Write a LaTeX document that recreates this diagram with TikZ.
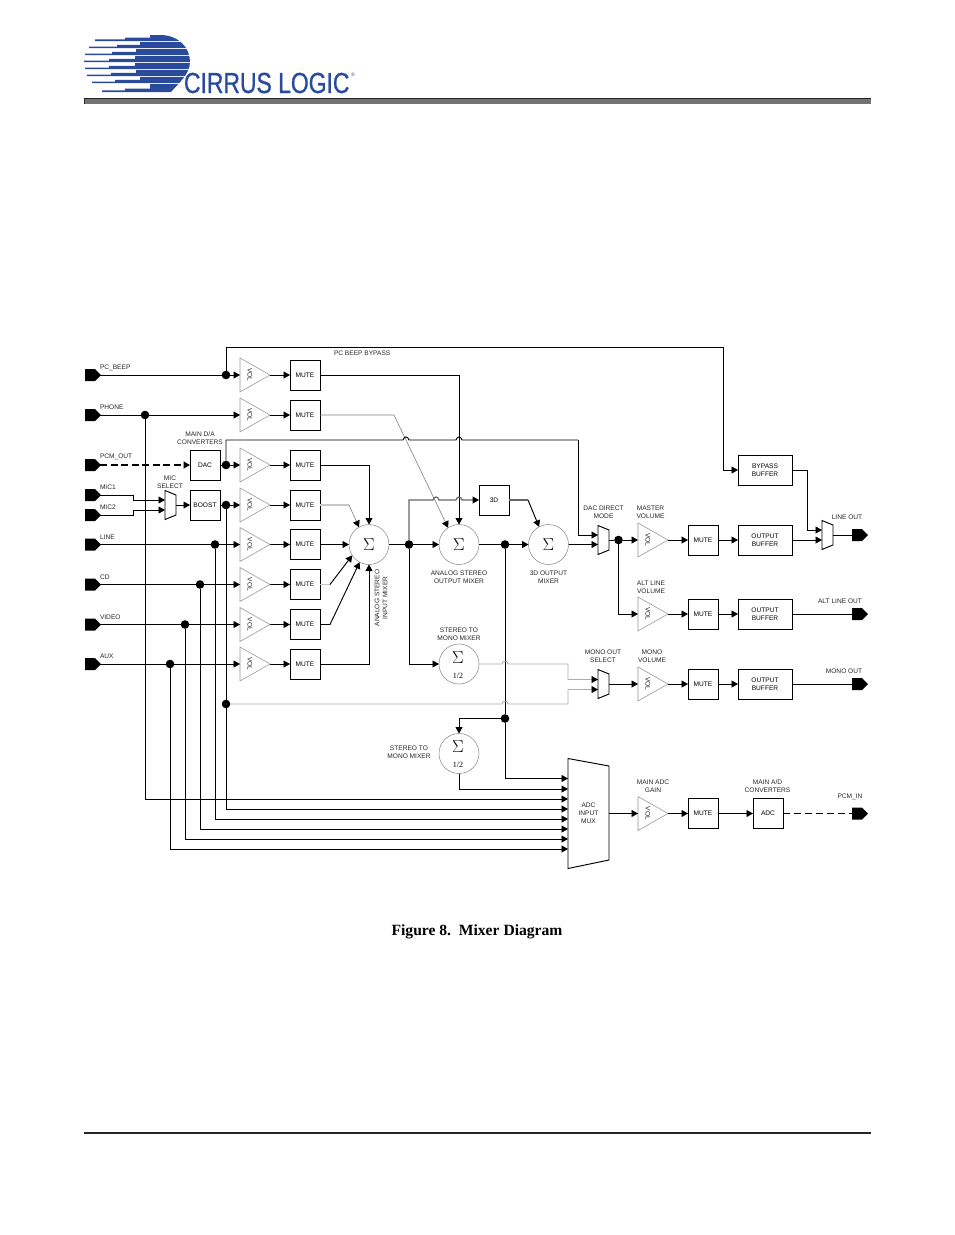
\documentclass[tikz,border=0pt]{standalone}
\usepackage{fontspec}
\setmainfont{Liberation Sans}
\newfontfamily\seriffont{Liberation Serif}
\newfontfamily\logofont[FakeBold=0.9]{Liberation Sans}
\usetikzlibrary{arrows.meta}
\definecolor{cirrus}{HTML}{2A4A9C}
\tikzset{
  wire/.style={line width=0.95pt,black},
  ar/.style={-{Triangle[length=6.5pt,width=7pt,color=black]}},
  graywire/.style={line width=0.6pt,black!50},
  midwire/.style={line width=1.2pt,black!60},
  palewire/.style={line width=1pt,black!22},
  monowire/.style={line width=0.8pt,black!32},
  dashwire/.style={line width=1.6pt,black,dash pattern=on 7pt off 3.5pt},
  box/.style={draw=black,line width=0.95pt,inner sep=0pt,outer sep=0pt,align=center,font=\lblfont},
  ghost/.style={inner sep=0pt,outer sep=0pt,draw=none},
  lbl/.style={inner sep=0pt,outer sep=0pt,align=center,font=\lblfont,text=black!85},
  dot/.style={circle,fill=black,draw=none,minimum size=8.6pt,inner sep=0pt,outer sep=0pt},
  sumc/.style={circle,draw=black!45,line width=0.55pt,minimum size=40pt,inner sep=0pt,outer sep=0pt},
  ampline/.style={draw=black!42,line width=0.55pt},
  muxline/.style={draw=black,line width=0.95pt},
}
\newcommand{\lblfont}{\fontsize{6.6}{8}\selectfont}
\newcommand{\volamp}[3]{%
  \node[ghost,minimum width=30pt,minimum height=34pt] (#1) at (#2+15,#3) {};
  \draw[ampline] (#1.north west) -- (#1.east) -- (#1.south west) -- cycle;
  \node[lbl,rotate=-90] (#1t) at (#2+10,#3) {VOL};
}
\newcommand{\mutebox}[3]{\node[box,minimum width=30pt,minimum height=30pt] (#1) at (#2+15,#3) {MUTE};}
\newcommand{\outbuf}[2]{\node[box,minimum width=54pt,minimum height=30pt] (#1) at (765,#2) {OUTPUT\\BUFFER};}
\newcommand{\inport}[2]{%
  \coordinate (#1) at (100,#2);
  \fill[black] (85,#2-6) -- (95,#2-6) -- (101,#2) -- (95,#2+6) -- (85,#2+6) -- cycle;
}
\newcommand{\outport}[2]{%
  \coordinate (#1) at (852,#2);
  \fill[black] (852,#2-6) -- (862,#2-6) -- (868,#2) -- (862,#2+6) -- (852,#2+6) -- cycle;
}
\newcommand{\smallmux}[3]{%
  \node[ghost,minimum width=11pt,minimum height=29pt] (#1) at (#2+5.5,#3) {};
  \draw[muxline] (#2,#3-14.5) -- (#2+11,#3-10) -- (#2+11,#3+10) -- (#2,#3+14.5) -- cycle;
}
\newcommand{\logoband}[5]{% top, bottom, tip x, step1 x, step2 x
  \fill[cirrus] (#3,#2-1.6) -- (#4,#2-1.6) -- (#4,#2-3.4) -- (#5,#2-3.4) -- (#5,#1) -- (195,#1) -- (195,#2) -- (#3,#2) -- cycle;
}
\begin{document}
\begin{tikzpicture}[x=1pt,y=-1pt]
\useasboundingbox (0,0) rectangle (954,1235);
\fill[white] (0,0) rectangle (954,1235);

% --- logo ---
\begin{scope}
\clip (80,33) -- (160,35) .. controls (178,35) and (190,47) .. (190,62) .. controls (190,74) and (178,84) .. (170,93) -- (80,93) -- cycle;
\logoband{35}{41}{95}{125}{150}
\logoband{42}{48.2}{89}{117}{140}
\logoband{49.2}{55.2}{85}{112}{136}
\logoband{56.2}{62.2}{84}{109}{135}
\logoband{63.2}{69.2}{85}{109}{135}
\logoband{70.2}{76.2}{87}{111}{136}
\logoband{77.2}{83.2}{92}{115}{140}
\logoband{84.2}{92}{102}{125}{150}
\end{scope}
\node[inner sep=0pt,outer sep=0pt,anchor=base west,text=cirrus,xscale=0.79] (logotext) at (184,93) {\logofont\fontsize{29}{30}\selectfont CIRRUS LOGIC};
\node[inner sep=0pt,outer sep=0pt,text=cirrus] (logoreg) at (353,75) {\fontsize{5}{6}\selectfont ®};

% --- page rules ---
\fill[black!55] (84,98) rectangle (871,104);
\draw[black!85,line width=1pt] (84.5,104) -- (84.5,98.5) -- (871,98.5);
\fill[black!85] (84,1132) rectangle (871,1134.2);
\node[inner sep=0pt,outer sep=0pt] (caption) at (477,931.5) {\seriffont\bfseries\fontsize{15.6}{17}\selectfont Figure 8.\ \ Mixer Diagram};

% --- ports ---
\inport{pBeep}{375}\inport{pPhone}{415}\inport{pPcm}{465}\inport{pMicA}{495}\inport{pMicB}{515}
\inport{pLine}{544.5}\inport{pCd}{584.5}\inport{pVideo}{624.5}\inport{pAux}{664}
\outport{oLine}{535}\outport{oAlt}{614}\outport{oMono}{684}\outport{oPcm}{813.5}

\node[lbl,anchor=west] (tBeep) at (100,368) {PC\_BEEP};
\node[lbl,anchor=west] (tPhone) at (100,407) {PHONE};
\node[lbl,anchor=west] (tPcm) at (100,457) {PCM\_OUT};
\node[lbl,anchor=west] (tMicA) at (100,487.5) {MIC1};
\node[lbl,anchor=west] (tMicB) at (100,507.5) {MIC2};
\node[lbl,anchor=west] (tLine) at (100,537) {LINE};
\node[lbl,anchor=west] (tCd) at (100,577) {CD};
\node[lbl,anchor=west] (tVideo) at (100,617) {VIDEO};
\node[lbl,anchor=west] (tAux) at (100,656) {AUX};

% --- amplifiers, mutes ---
\volamp{v1}{240}{375}\volamp{v2}{240}{415}\volamp{v3}{240}{465}\volamp{v4}{240}{505}
\volamp{v5}{240}{544.5}\volamp{v6}{240}{584.5}\volamp{v7}{240}{624.5}\volamp{v8}{240}{664}
\mutebox{m1}{290}{375}\mutebox{m2}{290}{415}\mutebox{m3}{290}{465}\mutebox{m4}{290}{505}
\mutebox{m5}{290}{544.5}\mutebox{m6}{290}{584.5}\mutebox{m7}{290}{624.5}\mutebox{m8}{290}{664}
\volamp{vMaster}{638}{540}\volamp{vAlt}{638}{614}\volamp{vMono}{638}{684}\volamp{vAdc}{638}{813.5}
\mutebox{mMaster}{688}{540}\mutebox{mAlt}{688}{614}\mutebox{mMono}{688}{684}\mutebox{mAdc}{688}{813.5}

% --- other boxes ---
\node[box,minimum width=30pt,minimum height=30pt] (dac) at (205,465) {DAC};
\node[box,minimum width=30pt,minimum height=30pt] (boost) at (205,505) {BOOST};
\node[box,minimum width=30pt,minimum height=30pt] (threeD) at (494,500) {3D};
\node[box,minimum width=54pt,minimum height=30pt] (bypass) at (765,470) {BYPASS\\BUFFER};
\outbuf{bMaster}{540}\outbuf{bAlt}{614}\outbuf{bMono}{684}
\node[box,minimum width=30pt,minimum height=30pt] (adc) at (768,813.5) {ADC};

% --- summers ---
\node[sumc] (s1) at (369,544.5) {\fontsize{17}{17}\selectfont$\Sigma$};
\node[sumc] (s2) at (459,544.5) {\fontsize{17}{17}\selectfont$\Sigma$};
\node[sumc] (s3) at (548.5,544.5) {\fontsize{17}{17}\selectfont$\Sigma$};
\node[sumc] (s4) at (459,664) {};
\node[sumc] (s5) at (459,753.5) {};
\node[inner sep=0pt] (s4a) at (458,657.5) {\fontsize{17}{17}\selectfont$\Sigma$};
\node[inner sep=0pt] (s4b) at (458,675.5) {\seriffont\fontsize{8}{8}\selectfont 1/2};
\node[inner sep=0pt] (s5a) at (458,747) {\fontsize{17}{17}\selectfont$\Sigma$};
\node[inner sep=0pt] (s5b) at (458,765) {\seriffont\fontsize{8}{8}\selectfont 1/2};

% --- selectors ---
\smallmux{muxMic}{165}{505}
\smallmux{muxDac}{598}{540}
\smallmux{muxLine}{822}{535}
\smallmux{muxMono}{598}{684}
\node[ghost,lbl,minimum width=41pt,minimum height=100pt] (muxAdc) at (588.5,813.5) {ADC\\INPUT\\MUX};
\draw[muxline] (568,758.5) -- (609,766) -- (609,860) -- (568,868.5) -- cycle;

% --- mux input points ---
\coordinate (iMicA) at (165,500);\coordinate (iMicB) at (165,510);
\coordinate (iDacA) at (598,535);\coordinate (iDacB) at (598,544.5);
\coordinate (iLineA) at (822,530);\coordinate (iLineB) at (822,540);
\coordinate (iMonoA) at (598,679.5);\coordinate (iMonoB) at (598,689.5);
\coordinate (iAdc1) at (568,778.5);\coordinate (iAdc2) at (568,789);
\coordinate (iAdc3) at (568,799);\coordinate (iAdc4) at (568,809);
\coordinate (iAdc5) at (568,819);\coordinate (iAdc6) at (568,829);
\coordinate (iAdc7) at (568,839);\coordinate (iAdc8) at (568,849);

% --- junction dots ---
\node[dot] (dBeep) at (226,375) {};
\node[dot] (dPhone) at (145,415) {};
\node[dot] (dDac) at (226,465) {};
\node[dot] (dBoost) at (226,505) {};
\node[dot] (dLine) at (215,544.5) {};
\node[dot] (dCd) at (200,584.5) {};
\node[dot] (dVideo) at (185,624.5) {};
\node[dot] (dAux) at (170,664) {};
\node[dot] (dMid) at (226,704) {};
\node[dot] (dS1) at (409,544.5) {};
\node[dot] (dS2) at (505,544.5) {};
\node[dot] (dS2b) at (505,718.5) {};
\node[dot] (dOut) at (618.5,540) {};

% --- left wires ---
\draw[wire] (pBeep) -- (dBeep);
\draw[wire,ar] (dBeep) -- (v1.west);
\draw[wire,ar] (v1.east) -- (m1.west);
\draw[wire,ar] (dBeep) |- (723,347) -- (723,470) -- (bypass.west);
\draw[wire] (pPhone) -- (dPhone);
\draw[wire,ar] (dPhone) -- (v2.west);
\draw[wire,ar] (v2.east) -- (m2.west);
\draw[wire,ar] (dPhone) |- (iAdc3);
\draw[dashwire,ar] (pPcm) -- (dac.west);
\draw[wire] (dac.east) -- (dDac);
\draw[wire,ar] (dDac) -- (v3.west);
\draw[wire,ar] (v3.east) -- (m3.west);
\draw[wire,ar] (pMicA) -- (133,495) -- (133,500) -- (iMicA);
\draw[wire,ar] (pMicB) -- (133,515) -- (133,510) -- (iMicB);
\draw[wire,ar] (muxMic.east) -- (boost.west);
\draw[wire] (boost.east) -- (dBoost);
\draw[wire,ar] (dBoost) -- (v4.west);
\draw[wire,ar] (v4.east) -- (m4.west);
\draw[wire,ar] (dBoost) |- (iAdc4);
\draw[wire] (pLine) -- (dLine);
\draw[wire,ar] (dLine) -- (v5.west);
\draw[wire,ar] (v5.east) -- (m5.west);
\draw[wire,ar] (dLine) |- (iAdc5);
\draw[wire] (pCd) -- (dCd);
\draw[wire,ar] (dCd) -- (v6.west);
\draw[wire,ar] (v6.east) -- (m6.west);
\draw[wire,ar] (dCd) |- (iAdc6);
\draw[wire] (pVideo) -- (dVideo);
\draw[wire,ar] (dVideo) -- (v7.west);
\draw[wire,ar] (v7.east) -- (m7.west);
\draw[wire,ar] (dVideo) |- (iAdc7);
\draw[wire] (pAux) -- (dAux);
\draw[wire,ar] (dAux) -- (v8.west);
\draw[wire,ar] (v8.east) -- (m8.west);
\draw[wire,ar] (dAux) |- (iAdc8);

% --- into the input mixer ---
\draw[wire,ar] (m3.east) -| (s1.north);
\draw[palewire,line width=1.2pt] (m4.east) -- (349,505);
\draw[graywire,ar] (349,505) -- (s1.120);
\draw[wire,ar] (m5.east) -- (s1.west);
\draw[palewire] (m6.east) -- (330,584.5);
\draw[wire,ar] (330,584.5) -- (s1.213);
\draw[wire,ar] (m7.east) -- (330,624.5) -- (s1.242);
\draw[wire,ar] (m8.east) -| (s1.south);

% --- beep mute, phone mute, dac line ---
\draw[wire,ar] (m1.east) -| (s2.north);
\draw[graywire,ar] (m2.east) -- (394,415) -- (s2.123);
\draw[wire] (dDac) |- (403,440) .. controls (404,436) and (408,436) .. (409,440) -- (456,440) .. controls (457,436) and (461,436) .. (462,440) -- (578,440);
\draw[wire,ar] (578,440) |- (iDacA);

% --- mixers ---
\draw[wire] (s1.east) -- (dS1);
\draw[wire,ar] (dS1) -- (s2.west);
\draw[midwire,ar] (dS1) |- (433,500) .. controls (434,496) and (438,496) .. (439,500) -- (456,500) .. controls (457,496) and (461,496) .. (462,500) -- (threeD.west);
\draw[midwire] (threeD.east) -- (528,500);
\draw[wire,ar] (528,500) -- (s3.118);
\draw[wire,ar] (dS1) |- (s4.west);
\draw[wire] (s2.east) -- (dS2);
\draw[wire,ar] (dS2) -- (s3.west);
\draw[wire,ar] (s3.east) -- (iDacB);
\draw[wire] (dS2) -- (dS2b);
\draw[wire,ar] (dS2b) |- (iAdc1);
\draw[wire,ar] (dS2b) -| (s5.north);
\draw[wire,ar] (s5.south) |- (iAdc2);

% --- mono select (pale) ---
\draw[monowire,ar] (s4.east) -- (502,664) .. controls (503,660) and (507,660) .. (508,664) -- (568,664) -- (568,679.5) -- (iMonoA);
\draw[monowire,ar] (dMid) -- (502,704) .. controls (503,700) and (507,700) .. (508,704) -- (568,704) -- (568,689.5) -- (iMonoB);

% --- output side ---
\draw[wire] (muxDac.east) -- (dOut);
\draw[wire,ar] (dOut) -- (vMaster.west);
\draw[wire,ar] (dOut) |- (vAlt.west);
\draw[wire,ar] (vMaster.east) -- (mMaster.west);
\draw[wire,ar] (mMaster.east) -- (bMaster.west);
\draw[wire,ar] (bMaster.east) -- (iLineB);
\draw[wire,ar] (bypass.east) -- (807,470) |- (iLineA);
\draw[wire] (muxLine.east) -- (oLine);
\draw[wire,ar] (vAlt.east) -- (mAlt.west);
\draw[wire,ar] (mAlt.east) -- (bAlt.west);
\draw[wire] (bAlt.east) -- (oAlt);
\draw[wire,ar] (muxMono.east) -- (vMono.west);
\draw[wire,ar] (vMono.east) -- (mMono.west);
\draw[wire,ar] (mMono.east) -- (bMono.west);
\draw[wire] (bMono.east) -- (oMono);
\draw[wire,ar] (muxAdc.east) -- (vAdc.west);
\draw[wire,ar] (vAdc.east) -- (mAdc.west);
\draw[wire,ar] (mAdc.east) -- (adc.west);
\draw[wire,dash pattern=on 7pt off 4pt] (adc.east) -- (oPcm);

% --- labels ---
\node[lbl,anchor=west] (tBypass) at (334,353) {PC BEEP BYPASS};
\node[lbl] (tDa) at (200,438.5) {MAIN D/A\\CONVERTERS};
\node[lbl] (tMic) at (170,482) {MIC\\SELECT};
\node[lbl,rotate=90] (tInMix) at (381,598) {ANALOG STEREO\\INPUT MIXER};
\node[lbl] (tOutMix) at (459,577) {ANALOG STEREO\\OUTPUT MIXER};
\node[lbl] (t3d) at (548.5,577) {3D OUTPUT\\MIXER};
\node[lbl] (tStA) at (459,634) {STEREO TO\\MONO MIXER};
\node[lbl] (tStB) at (409,752.5) {STEREO TO\\MONO MIXER};
\node[lbl] (tDacD) at (603.5,512) {DAC DIRECT\\MODE};
\node[lbl] (tMaster) at (650.5,512) {MASTER\\VOLUME};
\node[lbl] (tAlt) at (651,587) {ALT LINE\\VOLUME};
\node[lbl] (tLineOut) at (847,517.5) {LINE OUT};
\node[lbl] (tAltOut) at (840,601) {ALT LINE OUT};
\node[lbl] (tMonoSel) at (603,656) {MONO OUT\\SELECT};
\node[lbl] (tMonoVol) at (652,656) {MONO\\VOLUME};
\node[lbl] (tMonoOut) at (844,671) {MONO OUT};
\node[lbl] (tGain) at (653,786) {MAIN ADC\\GAIN};
\node[lbl] (tAd) at (767.5,786) {MAIN A/D\\CONVERTERS};
\node[lbl] (tPcmIn) at (850,796.5) {PCM\_IN};
\end{tikzpicture}
\end{document}
